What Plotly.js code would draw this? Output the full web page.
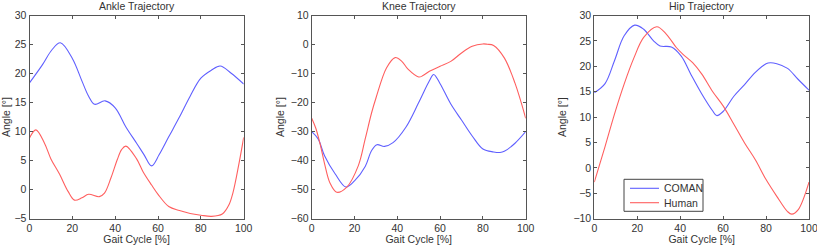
<!DOCTYPE html>
<html>
<head>
<meta charset="utf-8">
<script src="https://cdn.plot.ly/plotly-3.0.1.min.js"></script>
<style>html,body{margin:0;padding:0;background:#fff;}#chart{width:817px;height:245px;}</style>
</head>
<body>
<div id="chart"></div>
<script>
// Gait cycle positions and joint angles
const ankleX        = [0, 6, 10.5, 14.4, 20, 24.5, 27.6, 30.4, 35.3, 40, 45, 50, 53.5, 57, 60.5, 65, 70, 75, 80, 85, 89, 94, 100];
const ankleComan    = [18.4, 21.5, 24.1, 25.3, 22.6, 18.7, 16.1, 14.7, 15.3, 14.1, 10.8, 8.0, 6.0, 4.1, 6.0, 9.1, 12.5, 16.1, 19.2, 20.6, 21.3, 20.1, 18.2];
const ankleHumanX   = [0, 3, 7, 10, 14, 18, 21, 24.5, 27.6, 32.6, 35, 38, 41, 43, 45, 50, 53, 57, 60, 65, 70, 75, 80, 85, 90, 93, 95, 97.7, 100];
const ankleHuman    = [8.9, 10.3, 8.0, 5.3, 2.7, -0.3, -1.8, -1.4, -0.8, -1.2, -0.6, 2.0, 5.2, 6.9, 7.5, 5.3, 3.1, 0.8, -0.8, -2.9, -3.6, -4.1, -4.4, -4.6, -4.2, -2.7, -0.5, 4.3, 9.0];

const kneeX         = [0, 3, 6, 11, 16, 20, 25, 28, 30.5, 34, 38, 44, 50, 55, 57, 60, 65, 70, 75, 80, 85, 88, 90, 95, 100];
const kneeComan     = [-30, -32.5, -38.3, -44.6, -49.1, -47, -42, -36.5, -34.5, -35.1, -33.8, -28.5, -20, -12.5, -10.3, -13.5, -20.5, -26, -31.5, -36, -37, -37.2, -36.8, -34, -30];
const kneeHumanX    = [0, 2, 4, 6, 8.6, 11.7, 16.4, 21.8, 25, 28, 30, 35, 39, 42, 45, 50, 52, 55, 60, 65, 70, 75, 80, 82, 85, 90, 95, 100];
const kneeHuman     = [-25.4, -29, -34.5, -41, -47.8, -50.9, -49.1, -41.7, -32.5, -23.5, -18.5, -8, -4.5, -5.7, -8.5, -11.2, -10.7, -9.2, -7.5, -5.8, -2.9, -0.6, 0.2, 0.1, -0.3, -4.6, -13.3, -25.4];

const hipX          = [0, 5, 9.4, 13.9, 18.8, 23, 27.6, 30.6, 35.9, 40.5, 45, 50, 55, 57, 60, 65, 70, 75, 80, 82, 85, 90, 95, 100];
const hipComan      = [14.8, 16.6, 21.1, 26.0, 28.1, 27.3, 25.0, 24.0, 23.8, 22.0, 18.4, 14.6, 11.3, 10.3, 11.1, 14.1, 16.4, 18.8, 20.5, 20.7, 20.5, 19.6, 17.4, 15.3];
const hipHumanX     = [0, 5, 9.4, 13.9, 18.5, 23, 29.1, 33.6, 38.2, 41.2, 45.8, 50, 55, 60, 65, 70, 75, 80, 85, 90, 92, 95, 100];
const hipHuman      = [-2.8, 4.2, 10.6, 16.5, 21.7, 25.7, 27.8, 26.3, 23.7, 22.4, 20.7, 18.5, 15.1, 12.2, 8.6, 4.9, 1.6, -2.3, -5.6, -8.6, -9.1, -8.2, -2.8];

const titles = ["Ankle Trajectory", "Knee Trajectory", "Hip Trajectory"];
const seriesNames = ["COMAN", "Human"];
const xTitle = "Gait Cycle [%]";
const yTitle = "Angle [°]";

const blue = "rgb(95,95,255)";
const red = "rgb(255,95,95)";
const W = 817, H = 245;
const FONT = "Liberation Sans, Arial, sans-serif";
const TXT = "#333";
const AX = "#555";

function line(x, y, color, name, axn) {
  return {
    x: x, y: y, type: "scatter", mode: "lines", name: name,
    line: {color: color, width: 1.1, shape: "spline", smoothing: 1.0},
    xaxis: "x" + axn, yaxis: "y" + axn, showlegend: false, hoverinfo: "skip"
  };
}

const data = [
  line(ankleX, ankleComan, blue, seriesNames[0], ""),
  line(ankleHumanX, ankleHuman, red, seriesNames[1], ""),
  line(kneeX, kneeComan, blue, seriesNames[0], "2"),
  line(kneeHumanX, kneeHuman, red, seriesNames[1], "2"),
  line(hipX, hipComan, blue, seriesNames[0], "3"),
  line(hipHumanX, hipHuman, red, seriesNames[1], "3")
];

const panels = [
  {x0: 29.5, x1: 243.7, yr: [-5, 30], dy: 5},
  {x0: 311.7, x1: 525.7, yr: [-60, 10], dy: 10},
  {x0: 594.3, x1: 809, yr: [-10, 30], dy: 5}
];
const yTop = 15.5, yBot = 218.7;

const layout = {
  width: W, height: H,
  margin: {l: 0, r: 0, t: 0, b: 0},
  paper_bgcolor: "#fff", plot_bgcolor: "#fff",
  font: {family: FONT, size: 10.5, color: TXT},
  showlegend: false,
  annotations: [],
  shapes: []
};

panels.forEach((p, i) => {
  const s = i === 0 ? "" : String(i + 1);
  const common = {
    showline: true, mirror: "ticks", linecolor: AX, linewidth: 1,
    ticks: "inside", ticklen: 3, tickcolor: AX, tickwidth: 1,
    showgrid: false, zeroline: false, fixedrange: true,
    ticklabeloverflow: "allow",
    tickfont: {family: FONT, size: 10.5, color: TXT}
  };
  layout["xaxis" + s] = Object.assign({}, common, {
    domain: [p.x0 / W, p.x1 / W], range: [0, 100], dtick: 20, tick0: 0,
    anchor: "y" + s,
    title: {text: xTitle, font: {family: FONT, size: 10.5, color: TXT}, standoff: 2}
  });
  layout["yaxis" + s] = Object.assign({}, common, {
    domain: [1 - yBot / H, 1 - yTop / H], range: p.yr, dtick: p.dy, tick0: 0,
    anchor: "x" + s,
    title: {text: yTitle, font: {family: FONT, size: 10.5, color: TXT}, standoff: 4}
  });
  layout.annotations.push({
    text: titles[i], xref: "paper", yref: "paper",
    x: (p.x0 + p.x1) / 2 / W, y: 1 - 6 / H, xanchor: "center", yanchor: "middle",
    showarrow: false, font: {family: FONT, size: 10.5, color: TXT}
  });
});

// Legend box drawn in the hip panel (paper pixel positions)
const lg = {x0: 624, x1: 703, y0: 179.3, y1: 211.3};
layout.shapes.push({
  type: "rect", xref: "paper", yref: "paper",
  x0: lg.x0 / W, x1: lg.x1 / W, y0: 1 - lg.y1 / H, y1: 1 - lg.y0 / H,
  line: {color: "#444", width: 1}, fillcolor: "#fff", layer: "above"
});
[[seriesNames[0], blue, 188.3], [seriesNames[1], red, 202.7]].forEach(([nm, col, yy]) => {
  layout.shapes.push({
    type: "line", xref: "paper", yref: "paper",
    x0: 630 / W, x1: 659 / W, y0: 1 - yy / H, y1: 1 - yy / H,
    line: {color: col, width: 1.1}, layer: "above"
  });
  layout.annotations.push({
    text: nm, xref: "paper", yref: "paper", x: 662 / W, y: 1 - yy / H,
    xanchor: "left", yanchor: "middle", showarrow: false,
    font: {family: FONT, size: 10.5, color: TXT}
  });
});

Plotly.newPlot("chart", data, layout, {staticPlot: true, displayModeBar: false});
</script>
</body>
</html>
